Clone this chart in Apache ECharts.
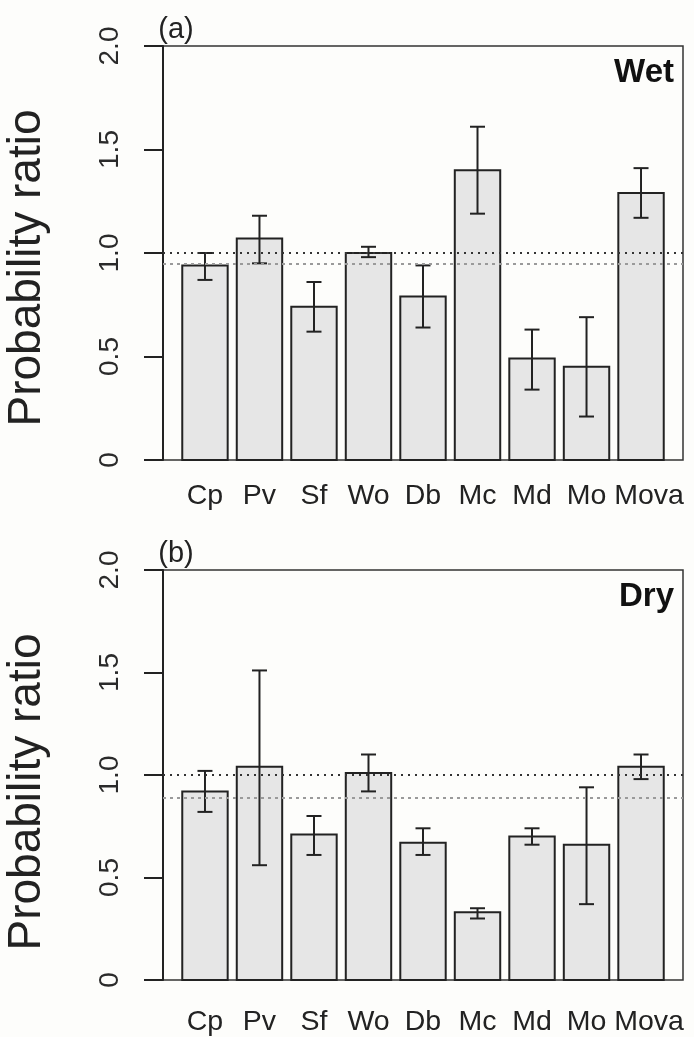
<!DOCTYPE html>
<html>
<head>
<meta charset="utf-8">
<script src="https://cdn.jsdelivr.net/npm/echarts@6/dist/echarts.min.js"></script>
<style>
  html, body { margin: 0; padding: 0; background: #fdfdfb; }
  #chart { width: 694px; height: 1037px; }
</style>
</head>
<body>
<div id="chart"></div>
<script>
// Species codes along the x axis
const categories = ['Cp', 'Pv', 'Sf', 'Wo', 'Db', 'Mc', 'Md', 'Mo', 'Mova'];

// (a) Wet season: probability ratio with lower / upper error limits
const wetRatio = [0.94, 1.07, 0.74, 1.00, 0.79, 1.40, 0.49, 0.45, 1.29];
const wetLower = [0.87, 0.95, 0.62, 0.98, 0.64, 1.19, 0.34, 0.21, 1.17];
const wetUpper = [1.00, 1.18, 0.86, 1.03, 0.94, 1.61, 0.63, 0.69, 1.41];

// (b) Dry season
const dryRatio = [0.92, 1.04, 0.71, 1.01, 0.67, 0.33, 0.70, 0.66, 1.04];
const dryLower = [0.82, 0.56, 0.61, 0.92, 0.61, 0.30, 0.66, 0.37, 0.98];
const dryUpper = [1.02, 1.51, 0.80, 1.10, 0.74, 0.35, 0.74, 0.94, 1.10];

// Horizontal reference levels (black dotted = 1, grey dotted = panel baseline)
const unityLevel = 1.0;
const wetBaseline = 0.947;
const dryBaseline = 0.89;

// Y axis ticks
const yTicks = [0, 0.5, 1.0, 1.5, 2.0];

const panelLabels = ['(a)', '(b)'];
const seasonLabels = ['Wet', 'Dry'];
const yTitle = 'Probability ratio';

// barplot-style x positions: unit-width bars separated by 0.2
const barCenter = i => 0.7 + 1.2 * i;
const xMin = 0.2 - 0.04 * 10.6;
const xMax = 10.8 + 0.04 * 10.6;

const INK = '#222222';
const FONT = '"Liberation Sans", Arial, Helvetica, sans-serif';

function rows(mean, lo, hi) {
  return mean.map((v, i) => [barCenter(i), v, lo[i], hi[i]]);
}

function renderBar(params, api) {
  const x = api.value(0), v = api.value(1), lo = api.value(2), hi = api.value(3);
  const base = api.coord([x - 0.5, 0]);
  const top = api.coord([x + 0.5, v]);
  const cHi = api.coord([x, hi]);
  const cLo = api.coord([x, lo]);
  const cap = 7.5;
  const lineStyle = { stroke: INK, lineWidth: 2 };
  return {
    type: 'group',
    children: [
      {
        type: 'rect',
        shape: { x: base[0], y: top[1], width: top[0] - base[0], height: base[1] - top[1] },
        style: { fill: '#e6e6e6', stroke: INK, lineWidth: 2 }
      },
      { type: 'line', shape: { x1: cHi[0], y1: cHi[1], x2: cLo[0], y2: cLo[1] }, style: lineStyle },
      { type: 'line', shape: { x1: cHi[0] - cap, y1: cHi[1], x2: cHi[0] + cap, y2: cHi[1] }, style: lineStyle },
      { type: 'line', shape: { x1: cLo[0] - cap, y1: cLo[1], x2: cLo[0] + cap, y2: cLo[1] }, style: lineStyle }
    ]
  };
}

const grids = [
  { left: 163, right: 11, top: 46, height: 414 },
  { left: 163, right: 11, top: 570, height: 414 }
];
const xLabelMargin = [22, 28];

// the last (longest) name is nudged right so it clears its neighbour
function xLabel(v) {
  const i = Math.round((v - 0.7) / 1.2);
  return i === categories.length - 1 ? '{last|' + categories[i] + '}' : categories[i];
}

const option = {
  backgroundColor: '#fdfdfb',
  animation: false,
  grid: grids.map(g => Object.assign({
    show: true, borderColor: '#333333', borderWidth: 1.5, backgroundColor: 'transparent'
  }, g)),
  xAxis: grids.map((g, k) => ({
    type: 'value',
    gridIndex: k,
    min: xMin,
    max: xMax,
    axisLine: { show: false, onZero: false },
    axisTick: { show: false },
    splitLine: { show: false },
    axisLabel: {
      customValues: categories.map((c, i) => barCenter(i)),
      formatter: xLabel,
      hideOverlap: false,
      showMinLabel: true,
      showMaxLabel: true,
      color: INK,
      fontFamily: FONT,
      fontSize: 28.5,
      margin: xLabelMargin[k],
      rich: {
        last: { color: INK, fontFamily: FONT, fontSize: 28.5, padding: [0, 0, 0, 16] }
      }
    }
  })),
  yAxis: grids.map((g, k) => ({
    type: 'value',
    gridIndex: k,
    min: 0,
    max: 2,
    interval: 0.5,
    axisLine: { show: true, onZero: false, lineStyle: { color: INK, width: 2 } },
    axisTick: { show: true, inside: false, length: 19, lineStyle: { color: INK, width: 2 } },
    splitLine: { show: false },
    axisLabel: {
      customValues: yTicks,
      rotate: 90,
      margin: 39,
      color: '#2a2a2a',
      fontFamily: FONT,
      fontSize: 28,
      formatter: v => (v === 0 ? '0' : v.toFixed(1))
    }
  })),
  series: [
    {
      type: 'custom', xAxisIndex: 0, yAxisIndex: 0, z: 2,
      renderItem: renderBar,
      encode: { x: 0, y: [1, 2, 3] },
      data: rows(wetRatio, wetLower, wetUpper)
    },
    {
      type: 'custom', xAxisIndex: 1, yAxisIndex: 1, z: 2,
      renderItem: renderBar,
      encode: { x: 0, y: [1, 2, 3] },
      data: rows(dryRatio, dryLower, dryUpper)
    }
  ].concat([wetBaseline, dryBaseline].map((b, k) => ({
    type: 'line', xAxisIndex: k, yAxisIndex: k, z: 5, data: [],
    markLine: {
      silent: true, symbol: 'none', label: { show: false },
      data: [
        { yAxis: unityLevel, lineStyle: { color: '#333333', width: 2, type: [2, 5] } },
        { yAxis: b, lineStyle: { color: '#9a9a9a', width: 2, type: [3, 4] } }
      ]
    }
  }))),
  graphic: [].concat(
    grids.map((g, k) => ({
      type: 'text', x: 176, y: g.top - 16,
      style: { text: panelLabels[k], font: '29px ' + FONT, fill: INK, textAlign: 'center', textVerticalAlign: 'middle' }
    })),
    grids.map((g, k) => ({
      type: 'text', x: 674, y: g.top + 27,
      style: { text: seasonLabels[k], font: 'bold 33px ' + FONT, fill: '#111111', textAlign: 'right', textVerticalAlign: 'middle' }
    })),
    grids.map((g, k) => ({
      type: 'text', x: 27, y: g.top + 222, rotation: Math.PI / 2,
      style: { text: yTitle, font: '46px ' + FONT, fill: INK, textAlign: 'center', textVerticalAlign: 'middle' }
    }))
  )
};

const chart = echarts.init(document.getElementById('chart'), null, { renderer: 'canvas' });
chart.setOption(option);
</script>
</body>
</html>
